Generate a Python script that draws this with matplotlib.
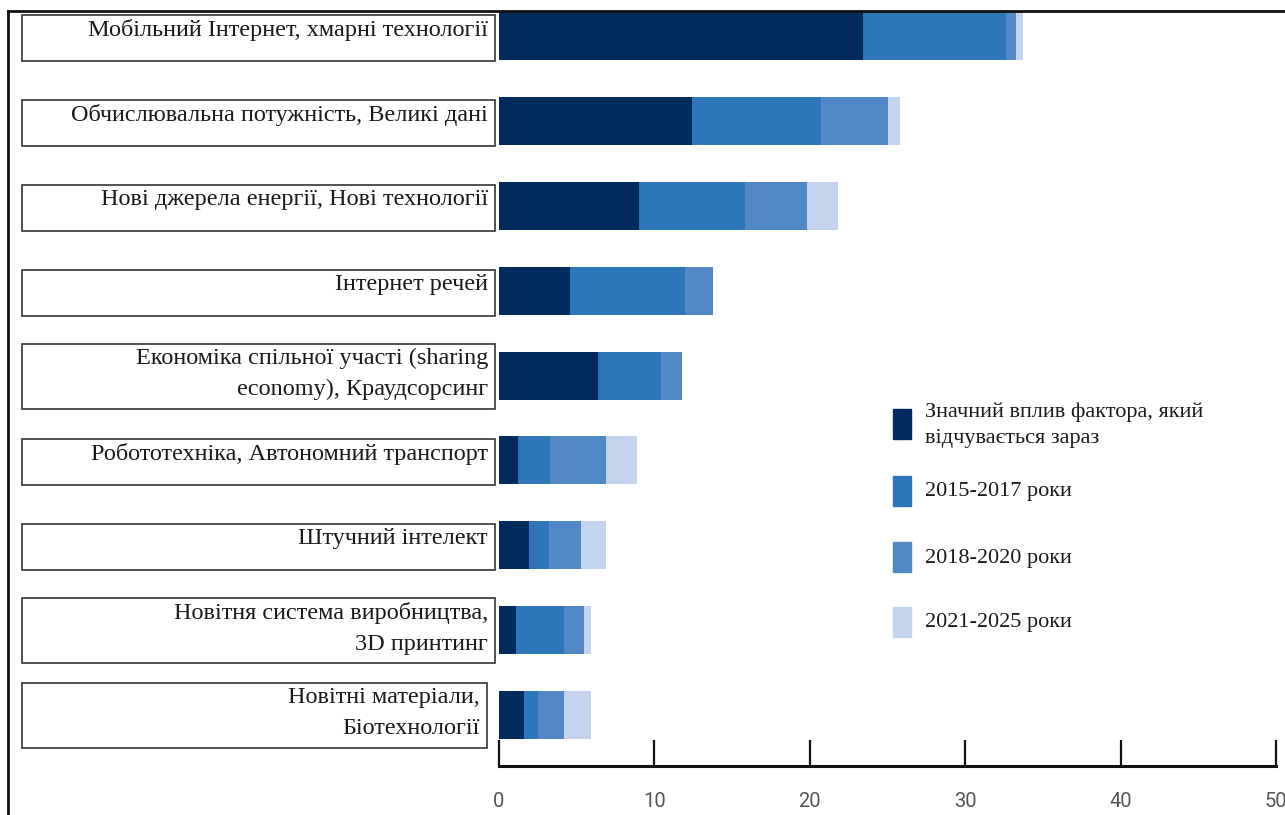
import matplotlib
matplotlib.use("Agg")
import matplotlib.pyplot as plt
import numpy as np
from matplotlib.patches import Rectangle
from matplotlib.lines import Line2D
from matplotlib.transforms import blended_transform_factory

categories = [
    "Мобільний Інтернет, хмарні технології",
    "Обчислювальна потужність, Великі дані",
    "Нові джерела енергії, Нові технології",
    "Інтернет речей",
    "Економіка спільної участі (sharing\neconomy), Краудсорсинг",
    "Робототехніка, Автономний транспорт",
    "Штучний інтелект",
    "Новітня система виробництва,\n3D принтинг",
    "Новітні матеріали,\nБіотехнології",
]
impact_now = [23.4, 12.4, 9.0, 4.6, 6.4, 1.2, 1.9, 1.1, 1.6]
years_2015_2017 = [9.2, 8.3, 6.8, 7.4, 4.0, 2.1, 1.3, 3.1, 0.9]
years_2018_2020 = [0.7, 4.3, 4.0, 1.8, 1.4, 3.6, 2.1, 1.3, 1.7]
years_2021_2025 = [0.4, 0.8, 2.0, 0.0, 0.0, 2.0, 1.6, 0.4, 1.7]
series_labels = [
    "Значний вплив фактора, який\nвідчувається зараз",
    "2015-2017 роки",
    "2018-2020 роки",
    "2021-2025 роки",
]
x_ticks = [0, 10, 20, 30, 40, 50]

colors = ["#022b5d", "#2d76ba", "#5288c6", "#c4d4ee"]
serif = ["Liberation Serif", "DejaVu Serif"]

W, H = 1285, 815
fig = plt.figure(figsize=(W / 100, H / 100), dpi=100)
ax = fig.add_axes([499 / W, 1 - 766 / H, (1276 - 499) / W, (766 - 11) / H])

step = 84.9  # pixels between bar centres
ypos = np.arange(len(categories))
left = np.zeros(len(categories))
for vals, c in zip([impact_now, years_2015_2017, years_2018_2020, years_2021_2025], colors):
    ax.barh(ypos, vals, left=left, height=48 / step, color=c, edgecolor="none")
    left += np.array(vals)

ax.set_xlim(0, 50)
ax.set_ylim(8.6, -25 / step)
ax.set_yticks([])
ax.set_xticks(x_ticks)
for s in ["top", "left", "right"]:
    ax.spines[s].set_visible(False)
ax.spines["bottom"].set_linewidth(2.2)
ax.spines["bottom"].set_color("#111111")
ax.tick_params(axis="x", direction="in", length=19, width=1.6, color="#111111",
               pad=19, labelsize=14.5, labelcolor="#555555")
for lbl in ax.get_xticklabels():
    lbl.set_family(["Roboto", "DejaVu Sans"])

# framed category labels to the left of the bars
trans = blended_transform_factory(fig.transFigure, ax.transData)
for i, name in enumerate(categories):
    two = "\n" in name
    top = i - (32 if two else 21) / step
    h = (65 if two else 46) / step
    right = 487 if i == len(categories) - 1 else 495
    ax.add_patch(Rectangle((22 / W, top), (right - 22) / W, h, transform=trans,
                           fill=False, edgecolor="#333333", lw=1.2, clip_on=False))
    ax.text((right - 7) / W, top + 4 / step, name, transform=trans, ha="right", va="top",
            fontsize=17.5, family=serif, color="#1a1a1a", linespacing=1.6, clip_on=False)

# legend drawn as coloured blocks with captions
patch_centres = [424, 491, 557, 622]
for c, lab, yc in zip(colors, series_labels, patch_centres):
    fig.add_artist(Rectangle((893 / W, 1 - (yc + 15) / H), 18 / W, 30 / H,
                             transform=fig.transFigure, color=c))
    fig.text(925 / W, 1 - (yc + 1) / H, lab, ha="left", va="center", fontsize=16,
             family=serif, color="#1a1a1a", linespacing=1.5)

# outer frame lines
fig.add_artist(Line2D([8 / W, 1], [1 - 11 / H] * 2, color="#111111", lw=2))
fig.add_artist(Line2D([8 / W] * 2, [0, 1 - 11 / H], color="#111111", lw=2))

fig.savefig("out.png", dpi=100, facecolor="white")
